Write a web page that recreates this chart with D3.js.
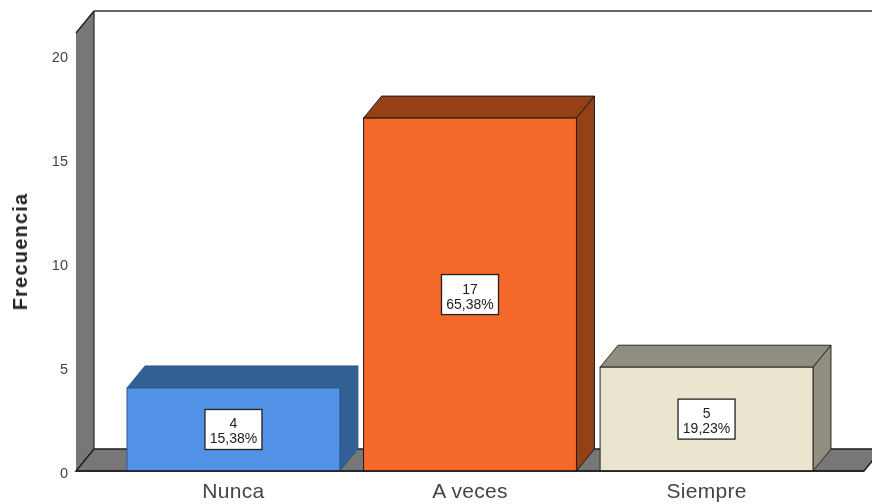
<!DOCTYPE html>
<html>
<head>
<meta charset="utf-8">
<script src="https://cdn.jsdelivr.net/npm/d3@7"></script>
<style>
  html, body { margin: 0; padding: 0; background: #fff; }
  svg { display: block; }
  text { font-family: "Liberation Sans", Arial, sans-serif; }
</style>
</head>
<body>
<div id="chart"></div>
<script>
// Data
const categories = ['Nunca', 'A veces', 'Siempre'];
const counts = [4, 17, 5];
const percents = ['15,38%', '65,38%', '19,23%'];
const yTicks = [0, 5, 10, 15, 20];
const frontColors = ['#5192e6', '#f4672a', '#ebe5d0'];
const sideColors = ['#335e94', '#963f19', '#918d80'];
const edgeColors = ['#2f5688', '#1c1c1c', '#2a2a24'];

// Set up dimensions
const width = 872, height = 504;
const margin = { top: 33, right: 8, bottom: 33, left: 76 };
const depthX = 18, depthY = 22;
const line = '#1c1c1c';

const svg = d3.select('#chart')
    .append('svg')
    .attr('width', width)
    .attr('height', height);

// the reference is a soft, scaled-up image
svg.append('defs').append('filter')
    .attr('id', 'soft')
    .attr('filterUnits', 'userSpaceOnUse')
    .attr('x', 0).attr('y', 0)
    .attr('width', width).attr('height', height)
    .append('feGaussianBlur')
    .attr('stdDeviation', 0.6);

const g = svg.append('g').attr('filter', 'url(#soft)');

// Create scales
const xScale = d3.scaleBand()
    .domain(categories)
    .range([margin.left, width - margin.right])
    .paddingInner(0.1)
    .paddingOuter(0.2156);

const yScale = d3.scaleLinear()
    .domain([0, 21.1])
    .range([height - margin.bottom, margin.top]);

const points = pts => pts.map(p => p.join(',')).join(' ');
const x0 = xScale.range()[0], x1 = xScale.range()[1];
const yBase = yScale(0), yTop = yScale(21.1);

// Side wall and floor
g.append('polygon')
    .attr('points', points([[x0, yTop], [x0 + depthX, yTop - depthY], [x0 + depthX, yBase - depthY], [x0, yBase]]))
    .attr('fill', '#777');

g.append('polygon')
    .attr('points', points([[x0, yBase], [x1, yBase], [x1 + depthX, yBase - depthY], [x0 + depthX, yBase - depthY]]))
    .attr('fill', '#777')
    .attr('stroke', line)
    .attr('stroke-width', 1.5);

// Wall edges and top of the back wall
g.append('line')
    .attr('x1', x0).attr('x2', x0 + depthX)
    .attr('y1', yTop).attr('y2', yTop - depthY)
    .attr('stroke', line)
    .attr('stroke-width', 1.4);

g.append('line')
    .attr('x1', x0 + depthX).attr('x2', x0 + depthX)
    .attr('y1', yTop - depthY).attr('y2', yBase - depthY)
    .attr('stroke', '#333')
    .attr('stroke-width', 1.3);

g.append('line')
    .attr('x1', x0 + depthX).attr('x2', width + 5)
    .attr('y1', yTop - depthY).attr('y2', yTop - depthY)
    .attr('stroke', '#333')
    .attr('stroke-width', 1.5);

// Add bars
const bars = g.selectAll('.bar')
    .data(categories)
    .enter()
    .append('g')
    .attr('class', 'bar');

bars.append('polygon')
    .attr('points', (d, i) => {
        const l = xScale(d), r = l + xScale.bandwidth(), t = yScale(counts[i]);
        return points([[l, t], [l + depthX, t - depthY], [r + depthX, t - depthY], [r, t]]);
    })
    .attr('fill', (d, i) => sideColors[i])
    .attr('stroke', (d, i) => edgeColors[i]);

bars.append('polygon')
    .attr('points', (d, i) => {
        const r = xScale(d) + xScale.bandwidth(), t = yScale(counts[i]);
        return points([[r, t], [r + depthX, t - depthY], [r + depthX, yBase - depthY], [r, yBase]]);
    })
    .attr('fill', (d, i) => sideColors[i])
    .attr('stroke', (d, i) => edgeColors[i]);

bars.append('rect')
    .attr('x', d => xScale(d))
    .attr('y', (d, i) => yScale(counts[i]))
    .attr('width', xScale.bandwidth())
    .attr('height', (d, i) => yBase - yScale(counts[i]))
    .attr('fill', (d, i) => frontColors[i])
    .attr('stroke', (d, i) => edgeColors[i]);

// Baseline runs over the bar feet
g.append('line')
    .attr('x1', x0).attr('x2', x1)
    .attr('y1', yBase).attr('y2', yBase)
    .attr('stroke', line)
    .attr('stroke-width', 1.5);

// Value labels
const labels = g.selectAll('.value')
    .data(categories)
    .enter()
    .append('g')
    .attr('class', 'value')
    .attr('transform', (d, i) => `translate(${xScale(d) + xScale.bandwidth() / 2},${(yScale(counts[i]) + yBase) / 2})`);

labels.append('rect')
    .attr('x', -28.5).attr('y', -20)
    .attr('width', 57).attr('height', 40)
    .attr('fill', '#fff')
    .attr('stroke', '#222')
    .attr('stroke-width', 1.3);

labels.append('text')
    .attr('text-anchor', 'middle')
    .attr('y', -1)
    .attr('font-size', 14)
    .attr('fill', '#222')
    .text((d, i) => counts[i]);

labels.append('text')
    .attr('text-anchor', 'middle')
    .attr('y', 14)
    .attr('font-size', 14)
    .attr('fill', '#222')
    .text((d, i) => percents[i]);

// Add y-axis
const yAxis = d3.axisLeft(yScale)
    .tickValues(yTicks)
    .tickSize(0)
    .tickPadding(8);

const yG = g.append('g')
    .attr('transform', `translate(${x0},1.5)`)
    .call(yAxis);
yG.select('.domain').remove();
yG.selectAll('text')
    .attr('font-size', 14.5)
    .attr('fill', '#444')
    .style('font-family', '"Liberation Sans", Arial, sans-serif');

// Add x-axis
const xAxis = d3.axisBottom(xScale).tickSize(0).tickPadding(12);
const xG = g.append('g')
    .attr('transform', `translate(0,${yBase})`)
    .call(xAxis);
xG.select('.domain').remove();
xG.selectAll('text')
    .attr('font-size', 21)
    .attr('letter-spacing', 0.3)
    .attr('fill', '#444')
    .style('font-family', '"Liberation Sans", Arial, sans-serif');

// y-axis label
g.append('text')
    .attr('transform', 'translate(27,251.5) rotate(-90)')
    .attr('text-anchor', 'middle')
    .attr('font-size', 20)
    .attr('letter-spacing', 1.2)
    .attr('font-weight', 'bold')
    .attr('fill', '#222')
    .text('Frecuencia');
</script>
</body>
</html>
